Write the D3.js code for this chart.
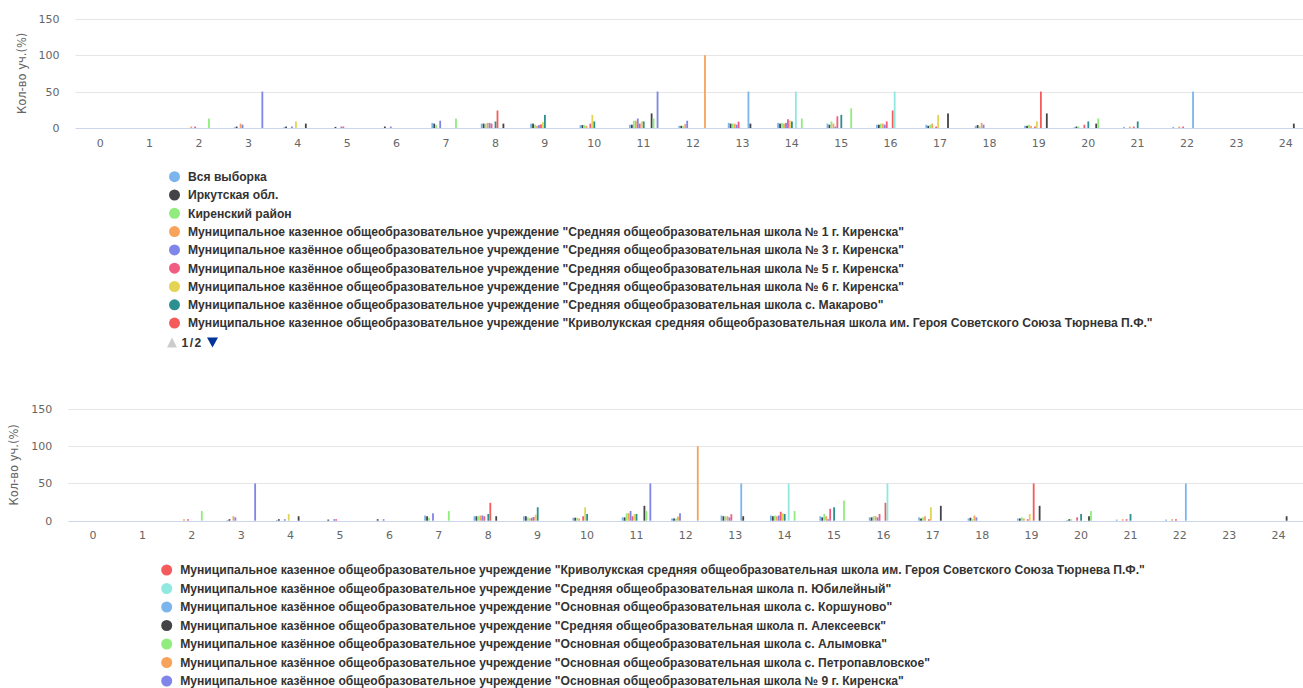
<!DOCTYPE html>
<html><head><meta charset="utf-8">
<script src="https://cdn.jsdelivr.net/npm/d3@7/dist/d3.min.js"></script>
<style>
body{margin:0;background:#fff;}
svg{display:block;font-family:"Liberation Sans",Arial,sans-serif;}
</style>
</head><body>
<svg id="c" width="1303" height="688"></svg>
<script>
// ---------- data ----------
const categories = ['0','1','2','3','4','5','6','7','8','9','10','11','12','13','14','15','16','17','18','19','20','21','22','23','24'];
const yTicks = [0, 50, 100, 150];

const seriesNames = [
  'Вся выборка',
  'Иркутская обл.',
  'Киренский район',
  'Муниципальное казенное общеобразовательное учреждение "Средняя общеобразовательная школа № 1 г. Киренска"',
  'Муниципальное казённое общеобразовательное учреждение "Средняя общеобразовательная школа № 3 г. Киренска"',
  'Муниципальное казённое общеобразовательное учреждение "Средняя общеобразовательная школа № 5 г. Киренска"',
  'Муниципальное казённое общеобразовательное учреждение "Средняя общеобразовательная школа № 6 г. Киренска"',
  'Муниципальное казённое общеобразовательное учреждение "Средняя общеобразовательная школа с. Макарово"',
  'Муниципальное казенное общеобразовательное учреждение "Криволукская средняя общеобразовательная школа им. Героя Советского Союза Тюрнева П.Ф."',
  'Муниципальное казённое общеобразовательное учреждение "Средняя общеобразовательная школа п. Юбилейный"',
  'Муниципальное казённое общеобразовательное учреждение "Основная общеобразовательная школа с. Коршуново"',
  'Муниципальное казённое общеобразовательное учреждение "Средняя общеобразовательная школа п. Алексеевск"',
  'Муниципальное казённое общеобразовательное учреждение "Основная общеобразовательная школа с. Алымовка"',
  'Муниципальное казённое общеобразовательное учреждение "Основная общеобразовательная школа с. Петропавловское"',
  'Муниципальное казённое общеобразовательное учреждение "Основная общеобразовательная школа № 9 г. Киренска"'
];

const colors = ['#7cb5ec','#434348','#90ed7d','#f7a35c','#8085e9','#f15c80','#e4d354','#2b908f','#f45b5b','#91e8e1','#7cb5ec','#434348','#90ed7d','#f7a35c','#8085e9'];

//                    0  1  2  3    4    5    6  7  8  9  10  11  12 13 14 15  16  17  18 19 20  21   22  23 24
const vsyaVyborka  = [0, 0, 0, 1,   1,   0,   0, 7, 6, 6, 4, 4.5, 3, 7, 7, 6, 4.5,4.5, 3, 3, 1, 1.5, 1.5, 0, 0];
const irkutskObl   = [0, 0, 0, 2,   2, 1.5,   2, 6, 6, 6, 4, 4.5, 3, 6, 6,4.5,4.5, 3,  4, 3, 2, 0,   0,   0, 0];
const kirenskRayon = [0, 0, 0, 0,   0,   0,   0, 4, 6,4.5,4, 10,  3, 6, 7, 9,  6,4.5,  2,4.5,2, 0,   0,   0, 0];
const sosh1        = [0, 0, 2, 6,   0,   0,   0, 0, 7, 3, 3, 10,5.5, 6, 6, 6,  6,  6,  7, 3, 0, 2,   2,   0, 0];
const sosh3        = [0, 0, 0,4.5,  2,   2,   2,10, 7, 4, 0, 13, 10,4.5,7, 2,4.5,  0,4.5, 0, 0, 0,   0,   0, 0];
const sosh5        = [0, 0, 2, 0,   0,   2,   0, 0, 6, 5, 6,  6,  0,8.7,12,16, 9,  2,  0, 2,4.5,2,   2,   0, 0];
const sosh6        = [0, 0, 0, 0,   9,   0,   0, 0, 0, 8,18,  9,  0, 0,10, 0,  0, 18,  0, 9, 0, 0,   0,   0, 0];
const makarovo     = [0, 0, 0, 0,   0,   0,   0, 0, 9,18, 9,  9,  0, 0, 9,18,  0,  0,  0, 0, 9, 9,   0,   0, 0];
const krivolukskaya= [0, 0, 0, 0,   0,   0,   0, 0,24, 0, 0,  0,  0, 0, 0, 0, 24,  0,  0,50, 0, 0,   0,   0, 0];
const yubileyny    = [0, 0, 0, 0,   0,   0,   0, 0, 0, 0, 0,  0,  0, 0,50, 0, 50,  0,  0, 0, 0, 0,   0,   0, 0];
const korshunovo   = [0, 0, 0, 0,   0,   0,   0, 0, 0, 0, 0,  0,  0,50, 0, 0,  0,  0,  0, 0, 0, 0,  50,   0, 0];
const alekseevsk   = [0, 0, 0, 0,   6,   0,   0, 0, 6, 0, 0, 20,  0, 6, 0, 0,  0, 20,  0,20, 6, 0,   0,   0, 6];
const alymovka     = [0, 0,13, 0,   0,   0,   0,13, 0, 0, 0, 13,  0, 0,13,27,  0,  0,  0, 0,13, 0,   0,   0, 0];
const petropavl    = [0, 0, 0, 0,   0,   0,   0, 0, 0, 0, 0,  0,100, 0, 0, 0,  0,  0,  0, 0, 0, 0,   0,   0, 0];
const sosh9        = [0, 0, 0,50,   0,   0,   0, 0, 0, 0, 0, 50,  0, 0, 0, 0,  0,  0,  0, 0, 0, 0,   0,   0, 0];

const seriesValues = [vsyaVyborka, irkutskObl, kirenskRayon, sosh1, sosh3, sosh5, sosh6, makarovo,
  krivolukskaya, yubileyny, korshunovo, alekseevsk, alymovka, petropavl, sosh9];

const series = seriesNames.map((name, i) => ({name, color: colors[i], values: seriesValues[i]}));

// ---------- drawing ----------
const svg = d3.select('#c');

function drawChart(cfg) {
  const g = svg.append('g');
  const x = d3.scaleBand().domain(categories).range([cfg.left, cfg.right]).padding(0);
  const bw = x.bandwidth();
  const x1 = d3.scaleBand().domain(d3.range(series.length))
    .range([0.2 * bw, 0.8 * bw]).paddingInner(0.2).paddingOuter(0.1);
  const y = d3.scaleLinear().domain([0, 150]).range([cfg.bottom, cfg.top]);

  // grid
  g.append('g').selectAll('line').data(yTicks.filter(t => t > 0)).join('line')
    .attr('x1', cfg.left).attr('x2', 1303)
    .attr('y1', d => Math.round(y(d)) + 0.5).attr('y2', d => Math.round(y(d)) + 0.5)
    .attr('stroke', '#e6e6e6').attr('stroke-width', 1);

  // y axis labels
  const yAxis = d3.axisLeft(y).tickValues(yTicks).tickSize(0).tickPadding(0);
  const ya = g.append('g').attr('transform', `translate(${cfg.left - 16},0)`).call(yAxis);
  ya.select('.domain').remove();
  ya.selectAll('text').attr('fill', '#666666').style('font-size', '11px')
    .attr('font-family', '"DejaVu Sans",sans-serif');

  // bars
  series.forEach((s, si) => {
    g.append('g').selectAll('rect')
      .data(s.values.map((v, ci) => ({v, c: categories[ci]})).filter(d => d.v > 0))
      .join('rect')
      .attr('x', d => x(d.c) + x1(si))
      .attr('width', Math.max(1.8, x1.bandwidth()))
      .attr('y', d => y(d.v))
      .attr('height', d => y(0) - y(d.v))
      .attr('fill', s.color);
  });

  // x axis
  const xAxis = d3.axisBottom(x).tickSize(0).tickPadding(0);
  const xa = g.append('g').attr('transform', `translate(0,${cfg.bottom})`).call(xAxis);
  xa.select('.domain').remove();
  xa.selectAll('text').attr('fill', '#666666').style('font-size', '11px')
    .attr('font-family', '"DejaVu Sans",sans-serif')
    .attr('dy', null).attr('y', cfg.labelDy);
  g.append('line').attr('x1', cfg.left).attr('x2', 1303)
    .attr('y1', Math.round(cfg.bottom) + 0.5).attr('y2', Math.round(cfg.bottom) + 0.5)
    .attr('stroke', '#ccd6eb');

  // axis title
  const ty = (cfg.top + cfg.bottom) / 2;
  g.append('text').attr('transform', `translate(${cfg.left - 50},${ty}) rotate(-90)`)
    .attr('text-anchor', 'middle').attr('fill', '#666666').style('font-size', '11.5px')
    .attr('font-family', '"DejaVu Sans",sans-serif')
    .text('Кол-во уч.(%)');

  // legend
  const lg = g.append('g');
  const items = series.slice(cfg.legendFrom, cfg.legendTo);
  items.forEach((s, i) => {
    const yy = cfg.legendY + i * cfg.legendStep;
    lg.append('circle').attr('cx', cfg.legendX).attr('cy', yy).attr('r', 5.5).attr('fill', s.color);
    lg.append('text').attr('x', cfg.legendX + 13.5).attr('y', yy).attr('dy', '0.36em')
      .attr('fill', '#333333').style('font-size', '12.12px').style('font-weight', 'bold')
      .text(s.name);
  });
  if (cfg.nav) {
    const ny = cfg.legendY + items.length * cfg.legendStep + 1;
    const ux = cfg.legendX - 2.5;
    lg.append('path').attr('d', `M${ux - 5},${ny + 5} L${ux + 5},${ny + 5} L${ux},${ny - 5} Z`).attr('fill', '#cccccc');
    lg.append('text').attr('x', ux + 9.5).attr('y', ny).attr('dy', '0.36em')
      .attr('fill', '#333333').style('font-size', '12px').style('font-weight', 'bold')
      .style('letter-spacing', '1.5px').text('1/2');
    const dx = ux + 40.5;
    lg.append('path').attr('d', `M${dx - 5.5},${ny - 5} L${dx + 5.5},${ny - 5} L${dx},${ny + 5} Z`).attr('fill', '#003399');
  }
}

drawChart({left: 75.5, right: 1310.5, top: 18.7, bottom: 128, labelDy: 19,
  legendFrom: 0, legendTo: 9, legendX: 174.5, legendY: 176.7, legendStep: 18.3, nav: true});
drawChart({left: 68.3, right: 1303.3, top: 409, bottom: 520.7, labelDy: 18,
  legendFrom: 8, legendTo: 15, legendX: 166.7, legendY: 570, legendStep: 18.5, nav: false});
</script>
</body></html>
